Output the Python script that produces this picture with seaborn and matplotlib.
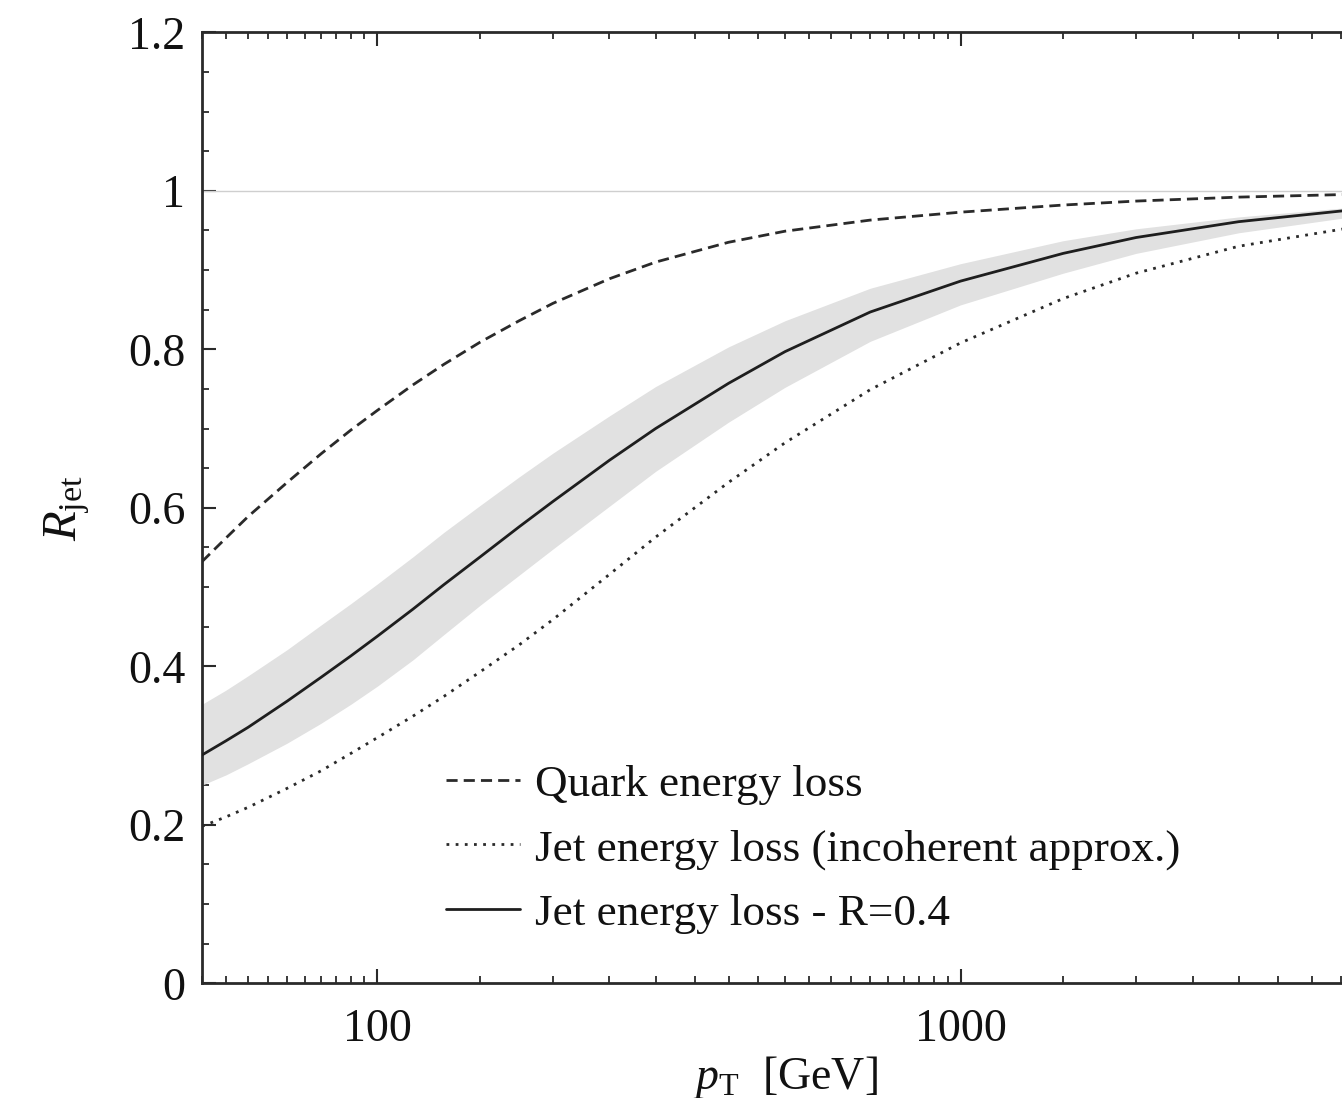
import numpy as np
import pandas as pd
import matplotlib
matplotlib.use("Agg")
import matplotlib.pyplot as plt
import seaborn as sns
from matplotlib.ticker import LogLocator, MultipleLocator, FuncFormatter, FixedLocator, NullFormatter

# --- data ---
pt = [50, 55, 60, 70, 80, 90, 100, 115, 130, 150, 175, 200, 250, 300,
      400, 500, 700, 1000, 1500, 2000, 3000, 5000]

r_quark = [0.532, 0.562, 0.589, 0.632, 0.668, 0.698, 0.723, 0.755, 0.781, 0.809, 0.836,
           0.858, 0.889, 0.910, 0.935, 0.949, 0.963, 0.973, 0.982, 0.987, 0.992, 0.996]

r_incoh = [0.198, 0.210, 0.222, 0.246, 0.268, 0.290, 0.310, 0.337, 0.362, 0.393, 0.427,
           0.459, 0.516, 0.563, 0.632, 0.682, 0.749, 0.808, 0.864, 0.896, 0.930, 0.957]

r_jet04 = [0.288, 0.306, 0.323, 0.356, 0.386, 0.413, 0.438, 0.472, 0.503, 0.538, 0.576,
           0.608, 0.660, 0.700, 0.757, 0.797, 0.847, 0.886, 0.921, 0.941, 0.961, 0.978]

band_hi = [0.352, 0.370, 0.388, 0.421, 0.452, 0.479, 0.504, 0.538, 0.569, 0.603, 0.639,
           0.669, 0.716, 0.753, 0.803, 0.836, 0.877, 0.908, 0.937, 0.952, 0.967, 0.981]

band_lo = [0.250, 0.263, 0.277, 0.303, 0.328, 0.352, 0.375, 0.408, 0.440, 0.477, 0.515,
           0.548, 0.602, 0.646, 0.708, 0.752, 0.810, 0.856, 0.896, 0.921, 0.947, 0.970]

labels = ["Quark energy loss",
          "Jet energy loss (incoherent approx.)",
          "Jet energy loss - R=0.4"]

x_major = [100, 1000]
y_major = [0, 0.2, 0.4, 0.6, 0.8, 1.0, 1.2]
unity = 1.0

df = pd.DataFrame({"pt": pt, "quark": r_quark, "incoh": r_incoh,
                   "jet": r_jet04, "lo": band_lo, "hi": band_hi})

# --- style ---
sns.set_theme(style="ticks")
plt.rcParams["font.family"] = ["Liberation Serif", "DejaVu Serif"]
plt.rcParams["mathtext.fontset"] = "custom"
plt.rcParams["mathtext.rm"] = "Liberation Serif"
plt.rcParams["mathtext.it"] = "Liberation Serif:italic"

fs = 33
ink = "#2a2a2a"
fig = plt.figure(figsize=(13.42, 10.98), dpi=100)
# axes runs a bit past the right border, like the cropped original
ax = fig.add_axes([0.1505, 0.1045, 0.8689, 0.8661])
ax.set_xscale("log")

ax.axhline(unity, color="#cfcfcf", lw=1.0, zorder=1)
ax.fill_between(df["pt"], df["lo"], df["hi"], color="#e1e1e1", lw=0, zorder=1)

sns.lineplot(data=df, x="pt", y="quark", ax=ax, color=ink, lw=2.0,
             linestyle=(0, (4.0, 2.2)), label=labels[0], zorder=3)
sns.lineplot(data=df, x="pt", y="incoh", ax=ax, color=ink, lw=2.0,
             linestyle=(0, (1.0, 2.3)), label=labels[1], zorder=3)
sns.lineplot(data=df, x="pt", y="jet", ax=ax, color="#1e1e1e", lw=2.0,
             linestyle="-", label=labels[2], zorder=3)

ax.set_xlim(50, 5000)
ax.set_ylim(0, 1.2)

ax.xaxis.set_major_locator(FixedLocator(x_major))
ax.xaxis.set_major_formatter(FuncFormatter(lambda v, p: f"{v:g}"))
ax.xaxis.set_minor_locator(LogLocator(base=10, subs=np.arange(1.5, 10, 0.5), numticks=100))
ax.xaxis.set_minor_formatter(NullFormatter())
ax.yaxis.set_major_locator(FixedLocator(y_major))
ax.yaxis.set_major_formatter(FuncFormatter(lambda v, p: f"{v:g}"))
ax.yaxis.set_minor_locator(MultipleLocator(0.05))

ax.tick_params(which="both", direction="in", top=True, right=True, colors=ink,
               labelcolor="#111111", labelsize=fs, width=1.5)
ax.tick_params(axis="y", pad=12)
ax.tick_params(axis="x", pad=18)
ax.tick_params(which="major", length=10)
ax.tick_params(which="minor", length=5, width=1.3)
for s in ax.spines.values():
    s.set_linewidth(2.0)
    s.set_color(ink)

ax.set_xlabel(r"$p_{\rm T}$  [GeV]", fontsize=fs, color="#111111", labelpad=2)
ax.set_ylabel(r"$R_{\rm jet}$", fontsize=fs + 2, color="#111111", labelpad=26)

ax.legend(loc="center left", bbox_to_anchor=(0.3323, 0.2268),
          bbox_transform=fig.transFigure, frameon=False, fontsize=32.5,
          handlelength=1.65, handletextpad=0.32, labelspacing=0.52,
          borderpad=0, borderaxespad=0, labelcolor="#111111")

fig.savefig("out.png", dpi=100)
